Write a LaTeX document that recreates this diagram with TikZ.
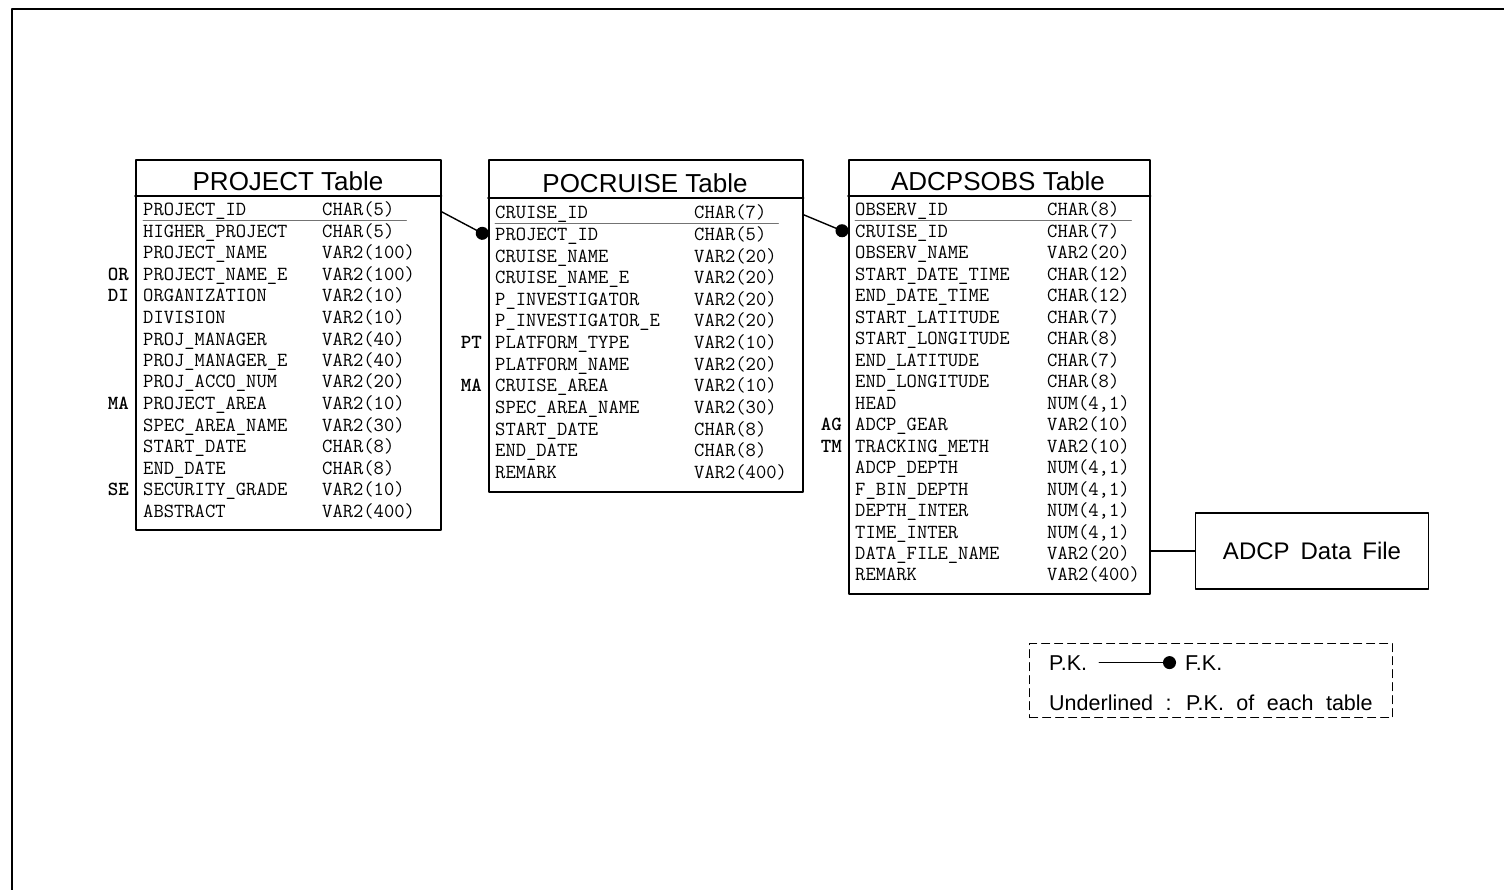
\documentclass[tikz,border=0pt]{standalone}
\usepackage{fontspec}
\setsansfont{Liberation Sans}
\usetikzlibrary{arrows.meta,calc,positioning}

\begin{document}
\begin{tikzpicture}[x=1pt, y=-1pt, line cap=round, line join=round,
  tbl/.style={draw, line width=1.6pt, anchor=north west, inner sep=0pt},
  ttl/.style={font=\sffamily\fontsize{26}{30}\selectfont, inner sep=0pt},
  fld/.style={font=\ttfamily\fontsize{20}{24}\selectfont, anchor=base west, inner sep=0pt},
  keytag/.style={font=\ttfamily\bfseries\fontsize{20}{24}\selectfont, anchor=base east, inner sep=0pt, xshift=-6pt},
  lgd/.style={font=\sffamily\fontsize{21.5}{26}\selectfont, anchor=base west, inner sep=0pt},
  hdrline/.style={line width=1.6pt},
  pkline/.style={black!55, line width=.8pt},
  fkline/.style={line width=1.4pt, -{Circle[length=13pt]}}]
  \useasboundingbox (0,0) rectangle (1504,890);

  % Sheet frame.
  \draw[line width=1.2pt] (1504,9) -- (12,9) -- (12,890);

  % PROJECT table.
  \node[tbl, minimum width=305pt, minimum height=370pt] (project) at (135,159) {};
  \node[ttl] (project-title) at (288,181) {PROJECT Table};
  \draw[hdrline] ([yshift=-37pt]project.north west) -- ([yshift=-37pt]project.north east);
  \foreach \f/\ty [count=\i] in {PROJECT\_ID/CHAR(5), HIGHER\_PROJECT/CHAR(5),
      PROJECT\_NAME/VAR2(100), PROJECT\_NAME\_E/VAR2(100), ORGANIZATION/VAR2(10),
      DIVISION/VAR2(10), PROJ\_MANAGER/VAR2(40), PROJ\_MANAGER\_E/VAR2(40),
      PROJ\_ACCO\_NUM/VAR2(20), PROJECT\_AREA/VAR2(10), SPEC\_AREA\_NAME/VAR2(30),
      START\_DATE/CHAR(8), END\_DATE/CHAR(8), SECURITY\_GRADE/VAR2(10), ABSTRACT/VAR2(400)}{
    \node[fld] (project-f\i) at (143,{216+21.5*(\i-1)}) {\f};
    \node[fld] (project-t\i) at (322,{216+21.5*(\i-1)}) {\ty};
  }
  \foreach \k/\i in {OR/4, DI/5, MA/10, SE/14}
    \node[keytag] (project-k\i) at (project-f\i.base -| project.west) {\k};

  % POCRUISE table.
  \node[tbl, minimum width=314pt, minimum height=332pt] (pocruise) at (488,159) {};
  \node[ttl] (pocruise-title) at (645,183) {POCRUISE Table};
  \draw[hdrline] ([yshift=-39pt]pocruise.north west) -- ([yshift=-39pt]pocruise.north east);
  \foreach \f/\ty [count=\i] in {CRUISE\_ID/CHAR(7), PROJECT\_ID/CHAR(5),
      CRUISE\_NAME/VAR2(20), CRUISE\_NAME\_E/VAR2(20), P\_INVESTIGATOR/VAR2(20),
      P\_INVESTIGATOR\_E/VAR2(20), PLATFORM\_TYPE/VAR2(10), PLATFORM\_NAME/VAR2(20),
      CRUISE\_AREA/VAR2(10), SPEC\_AREA\_NAME/VAR2(30), START\_DATE/CHAR(8),
      END\_DATE/CHAR(8), REMARK/VAR2(400)}{
    \node[fld] (pocruise-f\i) at (495,{219+21.6*(\i-1)}) {\f};
    \node[fld] (pocruise-t\i) at (694,{219+21.6*(\i-1)}) {\ty};
  }
  \foreach \k/\i in {PT/7, MA/9}
    \node[keytag] (pocruise-k\i) at (pocruise-f\i.base -| pocruise.west) {\k};

  % ADCPSOBS table.
  \node[tbl, minimum width=301pt, minimum height=434pt] (adcpsobs) at (848,159) {};
  \node[ttl] (adcpsobs-title) at (998,181) {ADCPSOBS Table};
  \draw[hdrline] ([yshift=-37pt]adcpsobs.north west) -- ([yshift=-37pt]adcpsobs.north east);
  \foreach \f/\ty [count=\i] in {OBSERV\_ID/CHAR(8), CRUISE\_ID/CHAR(7),
      OBSERV\_NAME/VAR2(20), START\_DATE\_TIME/CHAR(12), END\_DATE\_TIME/CHAR(12),
      START\_LATITUDE/CHAR(7), START\_LONGITUDE/CHAR(8), END\_LATITUDE/CHAR(7),
      END\_LONGITUDE/CHAR(8), HEAD/NUM(4{,}1), ADCP\_GEAR/VAR2(10),
      TRACKING\_METH/VAR2(10), ADCP\_DEPTH/NUM(4{,}1), F\_BIN\_DEPTH/NUM(4{,}1),
      DEPTH\_INTER/NUM(4{,}1), TIME\_INTER/NUM(4{,}1), DATA\_FILE\_NAME/VAR2(20),
      REMARK/VAR2(400)}{
    \node[fld] (adcpsobs-f\i) at (855,{216+21.47*(\i-1)}) {\f};
    \node[fld] (adcpsobs-t\i) at (1047,{216+21.47*(\i-1)}) {\ty};
  }
  \foreach \k/\i in {AG/11, TM/12}
    \node[keytag] (adcpsobs-k\i) at (adcpsobs-f\i.base -| adcpsobs.west) {\k};

  % Primary keys underlined, foreign keys linked.
  \foreach \tb in {project, pocruise, adcpsobs}
    \draw[pkline] ([yshift=-4pt]\tb-f1.base west) -- ([yshift=-4pt, xshift=12pt]\tb-t1.base east);
  \draw[fkline] (project-f1 -| project.east) -- (pocruise-f2 -| pocruise.west);
  \draw[fkline] (pocruise-f1 -| pocruise.east) -- (adcpsobs-f2 -| adcpsobs.west);

  % Data file.
  \node[draw, line width=1.6pt, minimum width=233pt, minimum height=76pt,
    font=\sffamily\fontsize{24}{28}\selectfont] (datafile) at (1312,551) {\spaceskip=11pt ADCP Data File};
  \draw[line width=1.4pt] (datafile.west) -- (datafile.west -| adcpsobs.east);

  % Legend.
  \node[draw, dashed, dash pattern=on 8pt off 5pt, line width=1.2pt, minimum width=363pt,
    minimum height=74pt, anchor=north west, inner sep=0pt] (legend) at (1029,643) {};
  \node[lgd] (pk) at (1049,670) {P.K.};
  \node[lgd] (fk) at (1185,670) {F.K.};
  \draw[fkline] ([xshift=12pt]pk.east) -- ([xshift=-9pt]fk.west);
  \node[lgd] (pk-note) at (1049,710) {\spaceskip=12.5pt Underlined : P.K. of each table};
\end{tikzpicture}
\end{document}
